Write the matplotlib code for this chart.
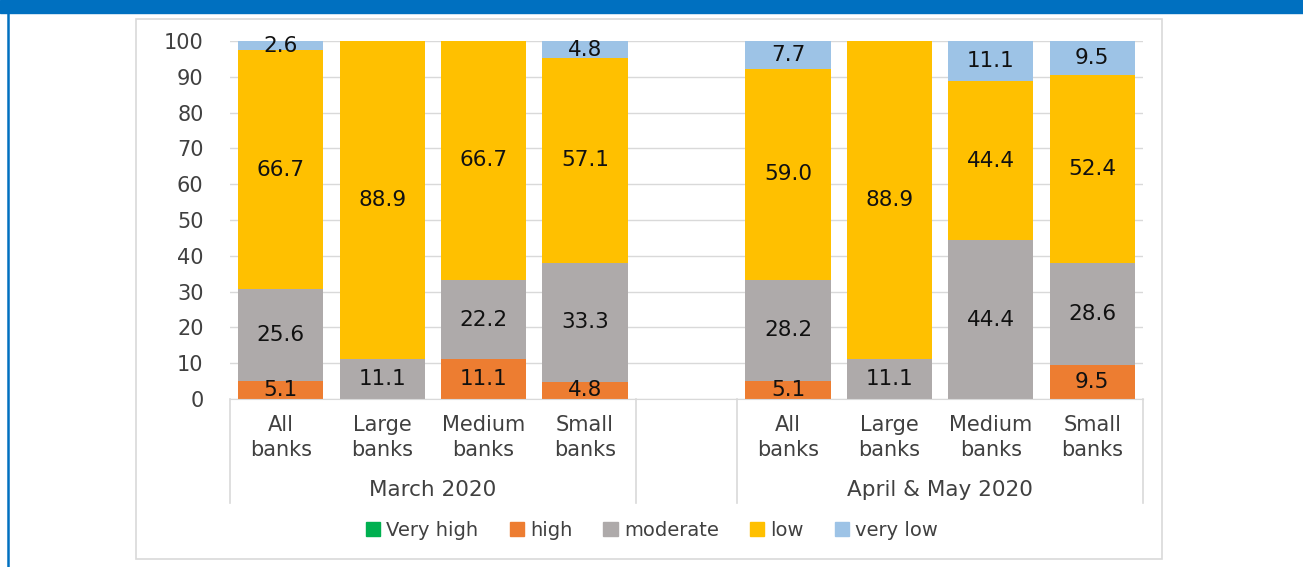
import matplotlib.pyplot as plt
import numpy as np
from matplotlib.patches import Rectangle
from matplotlib.lines import Line2D

# survey shares (%) by bank size, two survey rounds
groups = ['March 2020', 'April & May 2020']
categories = ['All\nbanks', 'Large\nbanks', 'Medium\nbanks', 'Small\nbanks']
series = ['Very high', 'high', 'moderate', 'low', 'very low']
colors = ['#00B050', '#ED7D31', '#AEAAAA', '#FFC000', '#9DC3E6']

very_high = [0, 0, 0, 0, 0, 0, 0, 0]
high = [5.1, 0, 11.1, 4.8, 5.1, 0, 0, 9.5]
moderate = [25.6, 11.1, 22.2, 33.3, 28.2, 11.1, 44.4, 28.6]
low = [66.7, 88.9, 66.7, 57.1, 59.0, 88.9, 44.4, 52.4]
very_low = [2.6, 0, 0, 4.8, 7.7, 0, 11.1, 9.5]

values = [very_high, high, moderate, low, very_low]

plt.rcParams['font.family'] = ['DejaVu Sans']
txt = '#404040'

W, H = 1303, 567
fig = plt.figure(figsize=(W / 100, H / 100), dpi=100)

# outer frame: blue header band and left edge, grey chart box
fig.patches.append(Rectangle((0, 1 - 12.5 / H), 1, 12.5 / H, transform=fig.transFigure,
                             color='#0070C0', zorder=0))
fig.add_artist(Line2D([7.5 / W, 7.5 / W], [0, 1 - 12.5 / H], transform=fig.transFigure,
                      color='#0070C0', lw=1.8))
fig.patches.append(Rectangle((136 / W, 1 - 559 / H), (1162 - 136) / W, (559 - 19) / H,
                             transform=fig.transFigure, fill=False, ec='#D9D9D9', lw=1.2))

ax = fig.add_axes([230 / W, 1 - 399 / H, (1143 - 230) / W, (399 - 41) / H])

# 4 bars, an empty slot, 4 bars
x = np.array([0, 1, 2, 3, 5, 6, 7, 8])
bottom = np.zeros(len(x))
for name, vals, c in zip(series, values, colors):
    vals = np.array(vals)
    ax.bar(x, vals, bottom=bottom, width=0.84, color=c, label=name, zorder=2)
    for xi, b, v in zip(x, bottom, vals):
        if v > 0:
            ax.text(xi, b + v / 2, '%.1f' % v, ha='center', va='center',
                    fontsize=15.5, color='#111111', zorder=3)
    bottom += vals

ax.set_xlim(-0.5, 8.5)
ax.set_ylim(0, 100)
ax.set_yticks(range(0, 101, 10))
ax.tick_params(axis='y', length=0, labelsize=15, labelcolor=txt, pad=19)
ax.set_xticks([])
ax.grid(axis='y', color='#D9D9D9', lw=1, zorder=0)
for s in ['top', 'right', 'left']:
    ax.spines[s].set_visible(False)
ax.spines['bottom'].set_color('#D9D9D9')

# two-level category axis
tr = ax.get_xaxis_transform()
for xi, lab in zip(x, categories * 2):
    ax.text(xi, -0.108, lab, transform=tr, ha='center', va='center',
            fontsize=15, color=txt, linespacing=1.3)
for cx, g in zip([1.5, 6.5], groups):
    ax.text(cx, -0.255, g, transform=tr, ha='center', va='center',
            fontsize=15.5, color=txt)
for sx in [-0.5, 3.5, 4.5, 8.5]:
    ax.add_line(Line2D([sx, sx], [0, -0.29], transform=tr, color='#D9D9D9',
                       lw=1.2, clip_on=False))

handles = [Rectangle((0, 0), 1, 1, color=c) for c in colors]
fig.legend(handles, series, loc='center', bbox_to_anchor=(652 / W, 1 - 530 / H),
           ncol=5, frameon=False, fontsize=14, handlelength=0.75, handleheight=0.75,
           handletextpad=0.3, columnspacing=1.6, labelcolor=txt)

fig.savefig('out.png', dpi=100)
